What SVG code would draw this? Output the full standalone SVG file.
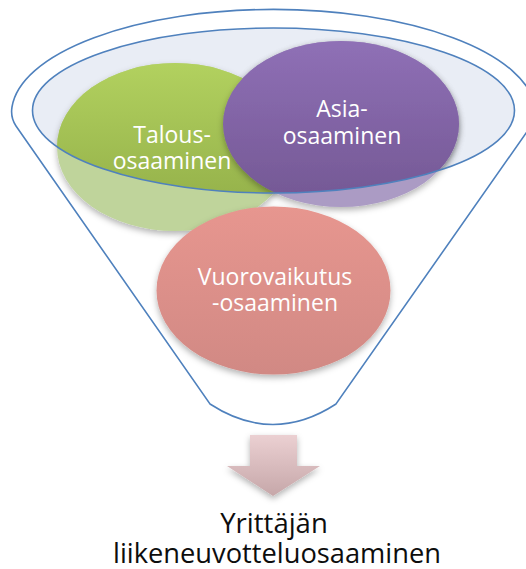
<svg xmlns="http://www.w3.org/2000/svg" width="526" height="569" viewBox="0 0 526 569">
<style>
.edge{fill:none;stroke:#4f81bd;stroke-width:1.6}
.lbl{font-family:"Open Sans","Liberation Sans",sans-serif;font-size:23px;fill:#ffffff;text-anchor:middle}
.res{font-family:"Open Sans","Liberation Sans",sans-serif;font-size:27.5px;fill:#0d0d0d;text-anchor:middle}
</style>
<defs>
<linearGradient id="gG" x1="0" y1="0" x2="0" y2="1"><stop offset="0" stop-color="#b2d15f"/><stop offset="1" stop-color="#8fab46"/></linearGradient>
<linearGradient id="gP" x1="0" y1="0" x2="0" y2="1"><stop offset="0" stop-color="#8f70b6"/><stop offset="1" stop-color="#735793"/></linearGradient>
<linearGradient id="gR" x1="0" y1="0" x2="0" y2="1"><stop offset="0" stop-color="#e7968f"/><stop offset="1" stop-color="#d18984"/></linearGradient>
<linearGradient id="gA" x1="0" y1="0" x2="0" y2="1"><stop offset="0" stop-color="#ebd0d2"/><stop offset="1" stop-color="#c6a7a9"/></linearGradient>
<filter id="sh" x="-20%" y="-20%" width="140%" height="150%"><feDropShadow dx="0" dy="3" stdDeviation="3" flood-color="#000" flood-opacity="0.3"/></filter>
<clipPath id="inner"><ellipse cx="273.5" cy="110.5" rx="241" ry="82.5"/></clipPath>
</defs>
<g id="funnel">
<path class="edge" d="M16,126 C12,120 11,113 12,107 A262,104 0 0 1 535,107 C536,113 535,120 531,126 L336,404 Q273,445 210,404 Z"/>
<ellipse cx="273.5" cy="110.5" rx="241" ry="82.5" fill="#e9edf5"/>
</g>
<g id="talous">
<ellipse cx="175" cy="147" rx="118" ry="84" fill="#bfd49b" filter="url(#sh)"/>
</g>
<g id="asia">
<ellipse cx="341" cy="124" rx="118" ry="83" fill="#ab9bc4" filter="url(#sh)"/>
</g>
<g id="inner-colour" clip-path="url(#inner)">
<ellipse cx="175" cy="147" rx="118" ry="84" fill="url(#gG)"/>
<ellipse cx="341" cy="124" rx="118" ry="83" fill="url(#gP)" filter="url(#sh)"/>
</g>
<ellipse class="edge" cx="273.5" cy="110.5" rx="241" ry="82.5"/>
<g id="talous-text">
<text class="lbl" x="172" y="143">Talous-</text>
<text class="lbl" x="172" y="169">osaaminen</text>
</g>
<g id="asia-text">
<text class="lbl" x="342" y="117">Asia-</text>
<text class="lbl" x="342" y="144">osaaminen</text>
</g>
<g id="vuorovaikutus">
<ellipse cx="273.5" cy="290.5" rx="117" ry="84" fill="url(#gR)" filter="url(#sh)"/>
<text class="lbl" x="275" y="285">Vuorovaikutus</text>
<text class="lbl" x="275" y="311">-osaaminen</text>
</g>
<g id="connectors">
<path d="M250,435 L297,435 L297,466 L320,466 L273,496 L227,466 L250,466 Z" fill="url(#gA)" filter="url(#sh)"/>
</g>
<g id="result">
<text class="res" x="274" y="533">Yrittäjän</text>
<text class="res" x="277" y="563" textLength="328" lengthAdjust="spacingAndGlyphs">liikeneuvotteluosaaminen</text>
</g>
</svg>
